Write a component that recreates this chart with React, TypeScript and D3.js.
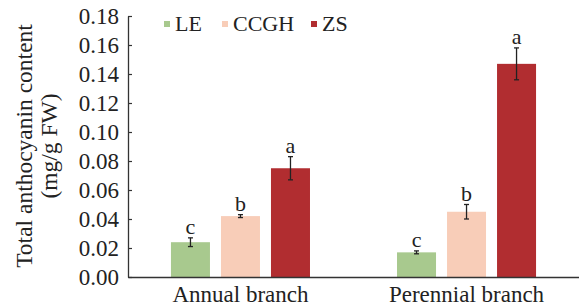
import { useRef, useEffect } from "react";
import * as d3 from "d3";

const groups = ["Annual branch", "Perennial branch"];
const series = ["LE", "CCGH", "ZS"];
const colors = ["#a8c98e", "#f8cdb8", "#b12d30"];
const means = [
  [0.024, 0.042, 0.075],
  [0.017, 0.045, 0.147],
];
const errors = [
  [0.003, 0.001, 0.008],
  [0.001, 0.005, 0.011],
];
const letters = [
  ["c", "b", "a"],
  ["c", "b", "a"],
];
const yTicks = [0, 0.02, 0.04, 0.06, 0.08, 0.1, 0.12, 0.14, 0.16, 0.18];

const W = 579;
const H = 308;
const FONT = "Liberation Serif, DejaVu Serif, serif";

export default function App() {
  const svgRef = useRef<SVGSVGElement>(null);

  useEffect(() => {
    if (!svgRef.current) return;
    const svg = d3.select(svgRef.current);
    svg.selectAll("*").remove();

    const left = 128;
    const top = 16;
    const bottom = 277;

    const y = d3.scaleLinear().domain([0, 0.18]).range([bottom, top]);
    const x0 = d3.scaleBand().domain(groups).range([128, 579]).paddingInner(0.385).paddingOuter(0.19);
    const x1 = d3.scaleBand().domain(series).range([0, x0.bandwidth()]).paddingInner(0.22);

    // bars
    groups.forEach((g, gi) => {
      series.forEach((s, si) => {
        const bx = x0(g)! + x1(s)!;
        const v = means[gi][si];
        const e = errors[gi][si];
        const cx = bx + x1.bandwidth() / 2;
        svg
          .append("rect")
          .attr("x", bx)
          .attr("y", y(v))
          .attr("width", x1.bandwidth())
          .attr("height", y(0) - y(v))
          .attr("fill", colors[si]);

        // error bar
        const eb = svg.append("g").attr("stroke", "#222").attr("stroke-width", 1.3);
        eb.append("line").attr("x1", cx).attr("x2", cx).attr("y1", y(v - e)).attr("y2", y(v + e));
        eb.append("line").attr("x1", cx - 2.5).attr("x2", cx + 2.5).attr("y1", y(v - e)).attr("y2", y(v - e));
        eb.append("line").attr("x1", cx - 2.5).attr("x2", cx + 2.5).attr("y1", y(v + e)).attr("y2", y(v + e));

        svg
          .append("text")
          .attr("x", cx)
          .attr("y", y(v + e) - 4)
          .attr("text-anchor", "middle")
          .style("font-family", FONT)
          .style("font-size", "22px")
          .attr("fill", "#222")
          .text(letters[gi][si]);
      });
    });

    // y axis
    const yAxis = svg
      .append("g")
      .attr("transform", `translate(${left},0)`)
      .call(
        d3
          .axisRight(y)
          .tickValues(yTicks)
          .tickFormat(d3.format(".2f"))
          .tickSize(4)
          .tickSizeOuter(0)
      );
    yAxis.select(".domain").attr("stroke", "#333").attr("stroke-width", 1.3);
    yAxis.selectAll(".tick line").attr("stroke", "#333").attr("stroke-width", 1.2);
    yAxis
      .selectAll(".tick text")
      .attr("x", -9)
      .attr("dy", "0.34em")
      .attr("text-anchor", "end")
      .style("font-family", FONT)
      .style("font-size", "23px")
      .attr("fill", "#222");

    // x axis
    const xAxis = svg
      .append("g")
      .attr("transform", `translate(0,${bottom})`)
      .call(d3.axisBottom(x0).tickSize(0).tickSizeOuter(0));
    xAxis.select(".domain").attr("stroke", "#333").attr("stroke-width", 1.3);
    xAxis
      .selectAll(".tick text")
      .attr("y", 9)
      .attr("dy", "0.71em")
      .style("font-family", FONT)
      .style("font-size", "23px")
      .attr("fill", "#222");

    // y label
    const yl = svg
      .append("text")
      .attr("transform", `translate(32,146) rotate(-90)`)
      .attr("text-anchor", "middle")
      .style("font-family", FONT)
      .style("font-size", "23.5px")
      .attr("fill", "#222");
    yl.append("tspan").attr("x", 0).attr("y", 0).text("Total anthocyanin content");
    yl.append("tspan").attr("x", 0).attr("y", 25).text("(mg/g FW)");

    // legend
    const legendX = [164, 222, 311];
    series.forEach((s, i) => {
      svg
        .append("rect")
        .attr("x", legendX[i])
        .attr("y", 21)
        .attr("width", 6)
        .attr("height", 6)
        .attr("fill", colors[i]);
      svg
        .append("text")
        .attr("x", legendX[i] + 11)
        .attr("y", 31)
        .style("font-family", FONT)
        .style("font-size", "22px")
        .attr("fill", "#222")
        .text(s);
    });
  }, []);

  return (
    <div style={{ position: "absolute", left: 0, top: 0, width: W, height: H, background: "#fff" }}>
      <svg ref={svgRef} width={W} height={H} />
    </div>
  );
}
